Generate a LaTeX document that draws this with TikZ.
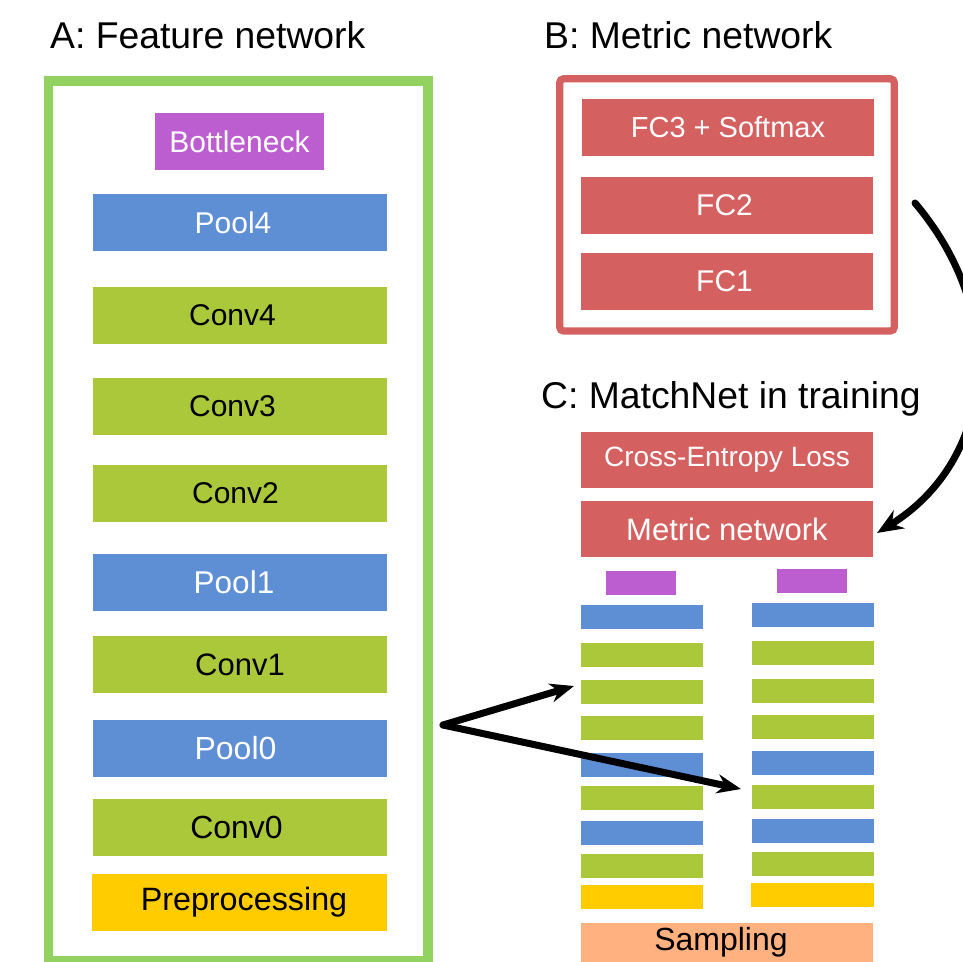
\documentclass[tikz,border=0pt]{standalone}
\usepackage{fontspec}
\setmainfont{Liberation Sans}
\usetikzlibrary{arrows.meta}
\definecolor{fgreen}{RGB}{146,210,96}
\definecolor{cred}{RGB}{212,96,96}
\definecolor{cblue}{RGB}{94,142,212}
\definecolor{cgreen}{RGB}{170,200,57}
\definecolor{cpurple}{RGB}{188,94,208}
\definecolor{cyellow}{RGB}{255,204,0}
\definecolor{cpeach}{RGB}{255,178,128}
\newcommand\lsh[2]{#2\hspace*{#1}}
\begin{document}
\begin{tikzpicture}[x=1pt,y=-1pt,
  blk/.style={rectangle, inner sep=0pt, outer sep=0pt, draw=none, font=\fontsize{30}{36}\selectfont},
  bigw/.style={blk, minimum width=294pt, minimum height=57pt},
  redb/.style={blk, fill=cred, text=white, minimum width=292pt, minimum height=57pt},
  bl/.style={fill=cblue, text=white},
  gr/.style={fill=cgreen, text=black},
  pu/.style={fill=cpurple, text=white},
  ye/.style={fill=cyellow, text=black},
  bar/.style={blk, minimum width=122pt, minimum height=24pt},
  pbar/.style={blk, fill=cpurple, minimum width=70pt, minimum height=24pt},
  ttl/.style={anchor=base west, inner sep=0pt, font=\fontsize{37.3}{42}\selectfont},
  arr/.style={line width=7pt, line cap=round, -{Stealth[length=24pt,width=19pt]}}
]
\useasboundingbox (0,0) rectangle (963,961);
\clip (0,0) rectangle (963,961);
\fill[white] (0,0) rectangle (963,961);

% titles
\node[ttl] (tA) at (50,48) {A: Feature network};
\node[ttl] (tB) at (544,48) {B: Metric network};
\node[ttl] (tC) at (541,408) {C: MatchNet in training};

% A: feature network
\node[draw=fgreen, line width=9.3pt, minimum width=379.3pt, minimum height=880pt, inner sep=0pt] (frameA) at (238.35,521) {};
\node[blk, pu, minimum width=169pt, minimum height=57pt] (bneck) at (239.5,141.5) {Bottleneck};
\node[bigw, bl] (pool4) at (240,222.5) {\lsh{14pt}{Pool4}};
\node[bigw, gr] (conv4) at (240,315.5) {\lsh{15pt}{Conv4}};
\node[bigw, gr] (conv3) at (240,406.5) {\lsh{15pt}{Conv3}};
\node[bigw, gr] (conv2) at (240,493.5) {\lsh{9pt}{Conv2}};
\node[bigw, bl, font=\fontsize{31.5}{36}\selectfont] (pool1) at (240,582.5) {\lsh{12pt}{Pool1}};
\node[bigw, gr, font=\fontsize{31}{36}\selectfont] (conv1) at (240,664.5) {Conv1};
\node[bigw, bl, font=\fontsize{32}{36}\selectfont] (pool0) at (240,748.5) {\lsh{9pt}{Pool0}};
\node[bigw, gr, font=\fontsize{32}{36}\selectfont] (conv0) at (240,827.5) {\lsh{7pt}{Conv0}};
\node[bigw, ye, minimum width=295pt, font=\fontsize{32.3}{36}\selectfont] (prep) at (239.5,902.5) {\hspace*{9pt}Preprocessing};

% B: metric network
\node[draw=cred, line width=7.3pt, rounded corners=4pt, minimum width=334.6pt, minimum height=252.2pt, inner sep=0pt] (frameB) at (727,204.9) {};
\node[redb, font=\fontsize{29}{36}\selectfont] (fc3) at (728,127.5) {FC3 + Softmax};
\node[redb] (fc2) at (727,205.5) {\lsh{5pt}{FC2}};
\node[redb] (fc1) at (727,281.5) {\lsh{5pt}{FC1}};

% C: MatchNet in training
\node[redb, minimum height=56pt, font=\fontsize{28}{32}\selectfont] (cel) at (727,460) {Cross-Entropy Loss};
\node[redb, minimum height=56pt, font=\fontsize{31}{36}\selectfont] (metric) at (727,529) {Metric network};

\node[pbar] (lp) at (641,583) {};
\node[bar, bl] (lb1) at (642,617) {};
\node[bar, gr] (lg1) at (642,655) {};
\node[bar, gr] (lg2) at (642,692) {};
\node[bar, gr] (lg3) at (642,728) {};
\node[bar, bl] (lb2) at (642,765) {};
\node[bar, gr] (lg4) at (642,798) {};
\node[bar, bl] (lb3) at (642,833) {};
\node[bar, gr] (lg5) at (642,866) {};
\node[bar, ye] (ly) at (642,897) {};

\node[pbar] (rp) at (812,581) {};
\node[bar, bl] (rb1) at (813,615) {};
\node[bar, gr] (rg1) at (813,653) {};
\node[bar, gr] (rg2) at (813,691) {};
\node[bar, gr] (rg3) at (813,727) {};
\node[bar, bl] (rb2) at (813,763) {};
\node[bar, gr] (rg4) at (813,797) {};
\node[bar, bl] (rb3) at (813,831) {};
\node[bar, gr] (rg5) at (813,864) {};
\node[bar, ye, minimum width=123pt] (ry) at (812.5,895) {};

\node[blk, fill=cpeach, text=black, minimum width=292pt, minimum height=39pt, font=\fontsize{32}{36}\selectfont] (samp) at (727,942.5) {\lsh{12pt}{Sampling}};

% connectors
\coordinate (src) at (443,725);
\coordinate (tipL) at (574,686);
\coordinate (tipR) at (741,789);
\draw[arr] (src) -- (tipL);
\draw[arr] (src) -- (tipR);

\coordinate (arcS) at (915,203);
\coordinate (arcE) at (877,533);
\draw[line width=7pt, line cap=round, -{Stealth[length=26pt,width=21pt]}] (arcS) .. controls (1012,318) and (992,462) .. (arcE);
\end{tikzpicture}
\end{document}
